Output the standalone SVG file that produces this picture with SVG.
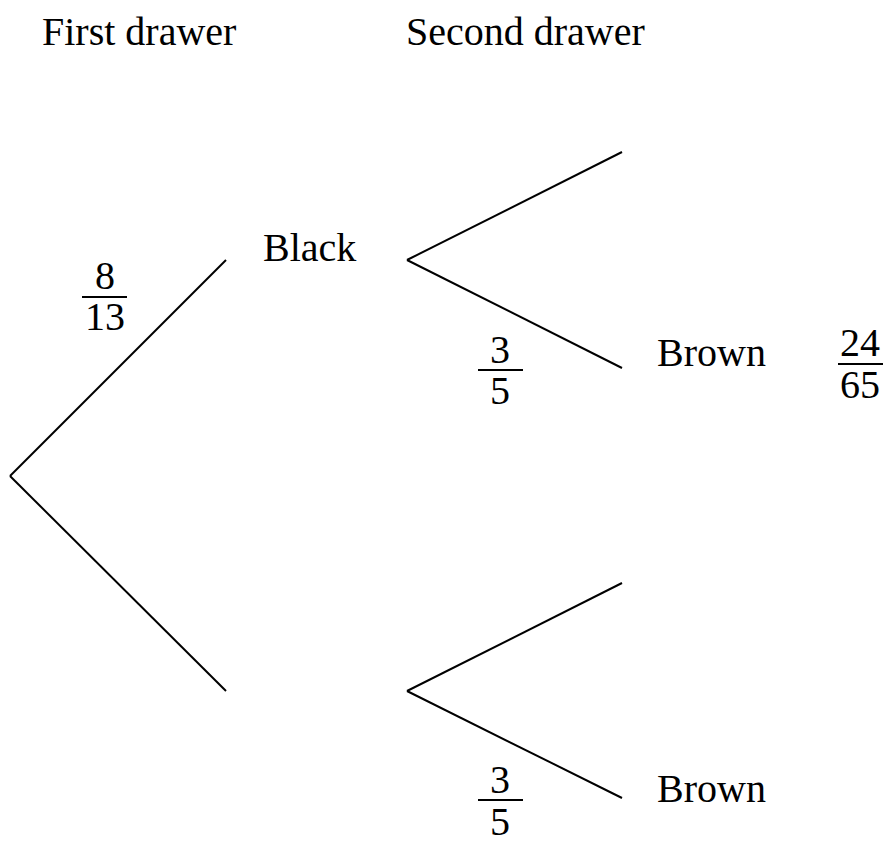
<svg xmlns="http://www.w3.org/2000/svg" width="889" height="848" viewBox="0 0 889 848">
<style>
text{font-family:"Liberation Serif","Times New Roman",serif;font-size:40px;fill:#000}
.c{text-anchor:middle}
line{stroke:#000;stroke-width:2;stroke-linecap:butt}
</style>
<rect width="889" height="848" fill="#fff"/>
<g id="connectors">
<line x1="10" y1="476" x2="226" y2="260"/>
<line x1="10" y1="476" x2="226" y2="691"/>
<line x1="407" y1="260" x2="622" y2="152"/>
<line x1="407" y1="260" x2="622" y2="368"/>
<line x1="407" y1="691" x2="622" y2="583"/>
<line x1="407" y1="691" x2="622" y2="798"/>
</g>
<g id="header-first"><text x="42" y="45">First drawer</text></g>
<g id="header-second"><text x="406" y="45">Second drawer</text></g>
<g id="node-black"><text x="263" y="261">Black</text></g>
<g id="node-brown-top"><text x="657" y="366">Brown</text></g>
<g id="node-brown-bottom"><text x="657" y="802">Brown</text></g>
<g id="frac-8-13">
<text class="c" x="105" y="289">8</text>
<line x1="82" y1="297" x2="127" y2="297"/>
<text class="c" x="105" y="330">13</text>
</g>
<g id="frac-3-5-top">
<text class="c" x="500" y="363">3</text>
<line x1="478" y1="370" x2="523" y2="370"/>
<text class="c" x="500" y="404">5</text>
</g>
<g id="frac-24-65">
<text class="c" x="860" y="356">24</text>
<line x1="838" y1="364" x2="883" y2="364"/>
<text class="c" x="860" y="398">65</text>
</g>
<g id="frac-3-5-bottom">
<text class="c" x="500" y="793">3</text>
<line x1="478" y1="800" x2="523" y2="800"/>
<text class="c" x="500" y="835">5</text>
</g>
</svg>
